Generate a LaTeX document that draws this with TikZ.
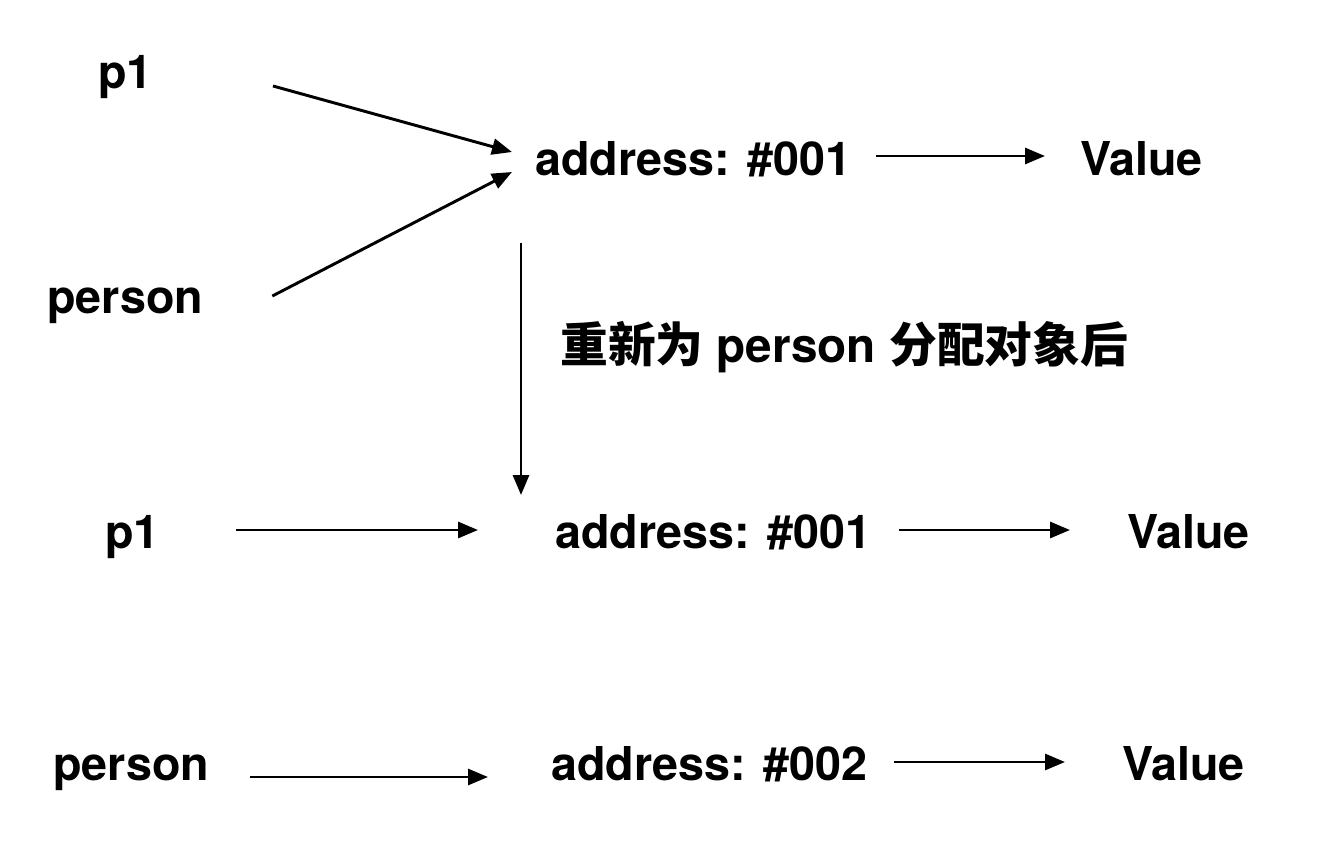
\documentclass[tikz,border=0pt]{standalone}
\usepackage{fontspec}
\setmainfont{TeX Gyre Heros}
\newfontfamily\cjk{Noto Sans CJK SC}
\usetikzlibrary{arrows.meta,calc}
\tikzset{
  lbl/.style={inner sep=0pt, anchor=base west, font=\fontsize{35}{40}\selectfont\bfseries},
  ptr/.style={-{Triangle[length=15pt, width=12pt]}, line width=2.2pt}
}
\begin{document}
\begin{tikzpicture}[x=0.75pt, y=-0.75pt]
      % Fix the page to the size of the picture
      \useasboundingbox (0,0) rectangle (1318,846);

      % Before: both names point to the same address
      \node[lbl] (p1A) at (98,88) {p1};
      \node[lbl] (personA) at (47,313) {person};
      \node[lbl] (addrA) at (535,175) {address: \#001};
      \node[lbl] (valA) at (1080,175) {Value};

      % After: person gets a new address
      \node[lbl] (p1B) at (105,548) {p1};
      \node[lbl] (addrB) at (555,548) {address: \#001};
      \node[lbl] (valB) at (1127,548) {Value};
      \node[lbl] (personC) at (53,780) {person};
      \node[lbl] (addrC) at (551,780) {address: \#002};
      \node[lbl] (valC) at (1122,780) {Value};

      % Label of the step between the two states
      \node[lbl, font=\fontsize{35.8}{40}\selectfont\bfseries] (step) at (560,362) {{\cjk 重新为} person {\cjk 分配对象后}};

      % Pointers
      \draw[ptr] ($(p1A.base east)+(120,-2)$) -- ($(addrA.base west)+(-23,-23)$);
      \draw[ptr] ($(personA.base east)+(69,-17)$) -- ($(addrA.base west)+(-23,-3)$);
      \draw[ptr] ($(addrA.base east)+(25,-19)$) -- ($(valA.base west)+(-35,-19)$);
      \draw[ptr] ($(addrA.base west)+(-14,68)$) -- ($(addrB.base west)+(-34,-53)$);
      \draw[ptr] ($(p1B.base east)+(76,-18)$) -- ($(addrB.base west)+(-77,-18)$);
      \draw[ptr] ($(addrB.base east)+(28,-18)$) -- ($(valB.base west)+(-57,-18)$);
      \draw[ptr] ($(personC.base east)+(41,-3)$) -- ($(addrC.base west)+(-63,-3)$);
      \draw[ptr] ($(addrC.base east)+(27,-18)$) -- ($(valC.base west)+(-57,-18)$);
\end{tikzpicture}
\end{document}
